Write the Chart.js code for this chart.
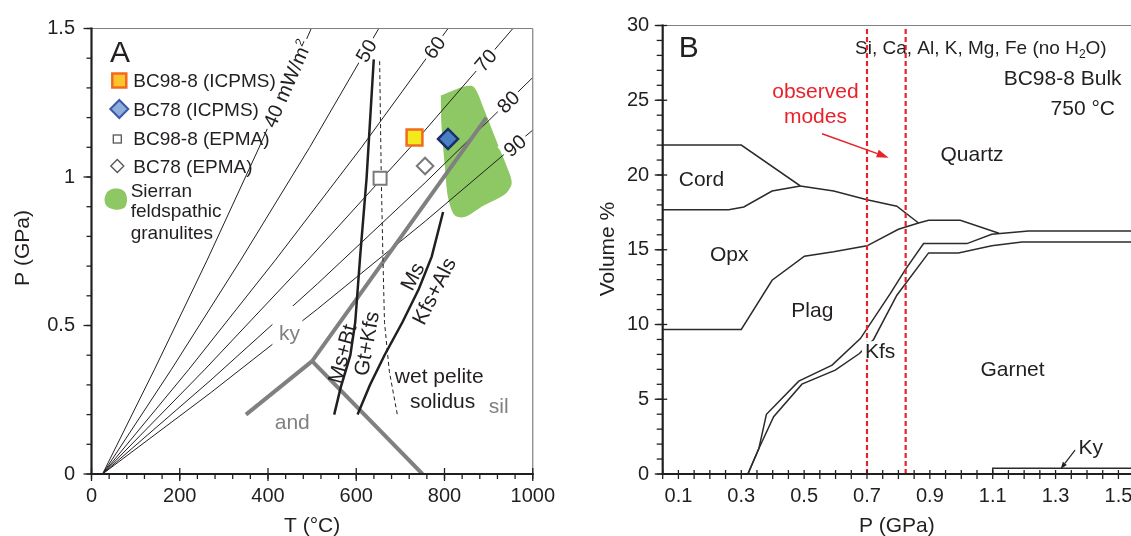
<!DOCTYPE html>
<html><head><meta charset="utf-8">
<script src="https://cdn.jsdelivr.net/npm/chart.js@4.4.0/dist/chart.umd.min.js"></script>
<style>
html,body{margin:0;padding:0;background:#fff;overflow:hidden;}
#wrap{position:relative;width:1131px;height:536px;overflow:hidden;}
#ca{position:absolute;left:0;top:0;}
#cb{position:absolute;left:565px;top:0;}
</style></head><body>
<div id="wrap"><canvas id="ca" width="565" height="536"></canvas><canvas id="cb" width="580" height="536"></canvas></div>
<script>
const FONT = "'Liberation Sans', Arial, Helvetica, sans-serif";
const INK = '#231f20';
const GRAY = '#808080';
const RED = '#e8212a';

// ================= Panel A data (T in °C, P in GPa) =================
const tTickLabels = [0, 200, 400, 600, 800, 1000];
const tMinorTicks = [0,40,80,120,160,200,240,280,320,360,400,440,480,520,560,600,640,680,720,760,800,840,880,920,960,1000];
const pTickLabelsA = [0, 0.5, 1, 1.5];
const pMinorTicksA = [0,0.1,0.2,0.3,0.4,0.5,0.6,0.7,0.8,0.9,1.0,1.1,1.2,1.3,1.4,1.5];

const geo40 = [[25,0],[143,0.353],[262,0.72],[380,1.10],[498,1.5]];
const geo50 = [[25,0],[181.5,0.353],[338,0.72],[494.5,1.10],[651,1.5]];
const geo60 = [[25,0],[221,0.353],[416.5,0.72],[612,1.10],[808,1.5]];
const geo70 = [[25,0],[257.5,0.353],[490,0.72],[722.5,1.10],[955,1.5]];
const geo80 = [[25,0],[268.75,0.314],[512.5,0.641],[756.25,0.981],[1000,1.335]];
const geo90 = [[25,0],[268.75,0.272],[512.5,0.556],[756.25,0.851],[1000,1.158]];
const geoNames = ['40','50','60','70','80','90'];
const geoLabelT = [443, 622, 777, 893, 944, 959];

const msBtGtKfs = [[550,0.2],[564.5,0.29],[586.6,0.40],[597.7,0.511],[608.8,0.732],[623.5,0.998],[639.7,1.396]];
const msKfsAls = [[603,0.2],[631,0.30],[664,0.40],[704.6,0.511],[741.5,0.622],[771,0.732],[796.8,0.882]];
const wetSolidus = [[653,1.39],[656.7,0.998],[660.4,0.732],[664,0.511],[675,0.345],[693.6,0.196]];
const andKy = [[350,0.2],[500,0.38]];
const kySil = [[500,0.38],[895,1.2]];
const andSil = [[500,0.38],[750,0]];

const bc98Icpms = [[732,1.133]];
const bc78Icpms = [[808,1.128]];
const bc98Epma = [[654,0.996]];
const bc78Epma = [[756,1.037]];

const sierranT = [791.7,845,867,889,918.5,948,952,937,889,845,823,808,800.5,793,791.7];
const sierranP = [1.274,1.305,1.302,1.230,1.119,1.009,0.976,0.942,0.904,0.865,0.871,0.931,1.042,1.175,1.274];

const legendItems = ['BC98-8 (ICPMS)','BC78 (ICPMS)','BC98-8 (EPMA)','BC78 (EPMA)'];
const sierranLegend = ['Sierran','feldspathic','granulites'];

// ================= Panel B data (P in GPa, Volume %) =================
const pTickLabelsB = [0.1,0.3,0.5,0.7,0.9,1.1,1.3,1.5];
const pMinorTicksB = [0.05,0.1,0.15,0.2,0.25,0.3,0.35,0.4,0.45,0.5,0.55,0.6,0.65,0.7,0.75,0.8,0.85,0.9,0.95,1.0,1.05,1.1,1.15,1.2,1.25,1.3,1.35,1.4,1.45,1.5];
const vTickLabels = [0,5,10,15,20,25,30];
const vMinorTicks = [0,1,2,3,4,5,6,7,8,9,10,11,12,13,14,15,16,17,18,19,20,21,22,23,24,25,26,27,28,29,30];

const cordTop = [[0.05,22.0],[0.30,22.0],[0.488,19.27],[0.594,18.93],[0.70,18.35],[0.795,17.91],[0.864,16.79]];
const cordBase = [[0.05,17.68],[0.26,17.68],[0.308,17.86],[0.398,18.93],[0.488,19.27]];
const opxBase = [[0.05,9.67],[0.30,9.67],[0.398,12.96],[0.501,14.57],[0.594,14.86],[0.70,15.26],[0.80,16.37],[0.864,16.79],[0.896,16.97],[0.997,16.97],[1.12,16.1]];
const plagBase = [[0.321,0],[0.356,1.71],[0.380,3.99],[0.483,6.21],[0.589,7.28],[0.679,9.06],[0.774,12.07],[0.822,13.67],[0.880,15.41],[1.018,15.41],[1.097,16.04],[1.214,16.26],[1.56,16.26]];
const kfsBase = [[0.321,0],[0.356,1.71],[0.403,3.83],[0.493,6.01],[0.599,6.95],[0.676,8.06],[0.721,9.0],[0.795,11.96],[0.896,14.79],[0.991,14.79],[1.097,15.26],[1.193,15.52],[1.56,15.52]];
const kyTop = [[1.10,0],[1.10,0.38],[1.56,0.38]];
const observedP = [0.70, 0.823];
const redArrow = [[0.557,22.76],[0.769,21.16]];
const kyArrow = [[1.362,1.60],[1.316,0.34]];

// ================= helpers =================
const xy = a => a.map(p => ({x: p[0], y: p[1]}));
function lineDs(arr, color, w, dash) {
  return {data: xy(arr), showLine: true, borderColor: color, borderWidth: w, borderDash: dash || [],
    pointRadius: 0, pointHoverRadius: 0, fill: false, tension: 0};
}
function markDs(arr, style, r, fillC, strokeC, w) {
  return {data: xy(arr), showLine: false, pointStyle: style, pointRadius: r, pointHoverRadius: r,
    pointBackgroundColor: fillC, pointBorderColor: strokeC, pointBorderWidth: w,
    backgroundColor: fillC, borderColor: strokeC};
}
function seg(ctx, x1, y1, x2, y2) { ctx.beginPath(); ctx.moveTo(x1, y1); ctx.lineTo(x2, y2); ctx.stroke(); }
function capText(ctx, s, x, yc, size, color, align) {
  ctx.font = size + 'px ' + FONT; ctx.fillStyle = color; ctx.textAlign = align || 'center';
  ctx.textBaseline = 'alphabetic'; ctx.fillText(s, x, yc + 0.358 * size);
}
function rotText(ctx, s, x, y, size, color, deg, bg) {
  ctx.save(); ctx.translate(x, y); ctx.rotate(deg * Math.PI / 180);
  ctx.font = size + 'px ' + FONT;
  if (bg) { const w = ctx.measureText(s).width; ctx.fillStyle = '#fff'; ctx.fillRect(-w/2 - 3, -size*0.5, w + 6, size); }
  ctx.fillStyle = color; ctx.textAlign = 'center'; ctx.textBaseline = 'alphabetic';
  ctx.fillText(s, 0, 0.358 * size);
  ctx.restore();
}
function arrow(ctx, x1, y1, x2, y2, color, w, head, half) {
  ctx.save(); ctx.strokeStyle = color; ctx.fillStyle = color; ctx.lineWidth = w;
  const a = Math.atan2(y2 - y1, x2 - x1);
  const bx = x2 - head * Math.cos(a), by = y2 - head * Math.sin(a);
  seg(ctx, x1, y1, bx, by);
  ctx.beginPath(); ctx.moveTo(x2, y2);
  ctx.lineTo(bx + half * Math.sin(a), by - half * Math.cos(a));
  ctx.lineTo(bx - half * Math.sin(a), by + half * Math.cos(a));
  ctx.closePath(); ctx.fill(); ctx.restore();
}

// ================= Panel A =================
const geoSets = [geo40, geo50, geo60, geo70, geo80, geo90];
const plugA = {
  id: 'plugA',
  afterDatasetsDraw(chart) {
    const {ctx, chartArea: ca, scales: {x, y}} = chart;
    const X = v => x.getPixelForValue(v), Y = v => y.getPixelForValue(v);
    ctx.save();
    // geotherm labels
    geoSets.forEach((arr, i) => {
      const t = geoLabelT[i];
      let k = 0; while (k < arr.length - 2 && arr[k + 1][0] < t) k++;
      const [t1, p1] = arr[k], [t2, p2] = arr[k + 1];
      const p = p1 + (p2 - p1) * (t - t1) / (t2 - t1);
      const ang = Math.atan2(Y(p2) - Y(p1), X(t2) - X(t1));
      ctx.save(); ctx.translate(X(t), Y(p)); ctx.rotate(ang);
      ctx.font = '20px ' + FONT;
      if (i === 0) {
        const main = geoNames[0] + ' mW/m';
        const w1 = ctx.measureText(main).width;
        ctx.font = '12px ' + FONT; const w2 = ctx.measureText('2').width;
        const tot = w1 + w2, x0 = -tot / 2;
        ctx.fillStyle = '#fff'; ctx.fillRect(x0 - 3, -10, tot + 6, 20);
        ctx.fillStyle = INK; ctx.textAlign = 'left'; ctx.textBaseline = 'alphabetic';
        ctx.font = '20px ' + FONT; ctx.fillText(main, x0, 7);
        ctx.font = '12px ' + FONT; ctx.fillText('2', x0 + w1 + 0.5, -1);
      } else {
        const w = ctx.measureText(geoNames[i]).width;
        ctx.fillStyle = '#fff'; ctx.fillRect(-w / 2 - 3, -10, w + 6, 20);
        ctx.fillStyle = INK; ctx.textAlign = 'center'; ctx.textBaseline = 'alphabetic';
        ctx.fillText(geoNames[i], 0, 7);
      }
      ctx.restore();
    });
    // ky label with gap in geotherms
    const kx = X(448.5), kyy = Y(0.478);
    ctx.fillStyle = '#fff'; ctx.fillRect(kx - 17, kyy - 26, 30, 39);
    capText(ctx, 'ky', kx, kyy, 21, GRAY);
    capText(ctx, 'and', X(455), Y(0.176), 21, GRAY);
    capText(ctx, 'sil', X(923), Y(0.232), 21, GRAY);
    capText(ctx, 'wet pelite', X(788), Y(0.332), 21, INK);
    capText(ctx, 'solidus', X(795.6), Y(0.248), 21, INK);
    rotText(ctx, 'Ms+Bt', X(567), Y(0.405), 21, INK, -75);
    rotText(ctx, 'Gt+Kfs', X(622), Y(0.439), 21, INK, -80);
    rotText(ctx, 'Ms', X(726), Y(0.666), 21, INK, -63);
    rotText(ctx, 'Kfs+Als', X(775), Y(0.617), 21, INK, -63);

    // panel letter
    ctx.font = '30px ' + FONT; ctx.fillStyle = INK; ctx.textAlign = 'left'; ctx.textBaseline = 'alphabetic';
    ctx.fillText('A', ca.left + 18.5, ca.top + 33);

    // legend
    const sx = ca.left + 27.8, tx = ca.left + 41.8;
    const ly = [ca.top + 52, ca.top + 80.5, ca.top + 109.5, ca.top + 137.5];
    ctx.fillStyle = '#fcc52b'; ctx.strokeStyle = '#f26a21'; ctx.lineWidth = 2.5;
    ctx.fillRect(sx - 7, ly[0] - 7, 14, 14); ctx.strokeRect(sx - 7, ly[0] - 7, 14, 14);
    ctx.beginPath(); ctx.moveTo(sx, ly[1] - 9); ctx.lineTo(sx + 9, ly[1]); ctx.lineTo(sx, ly[1] + 9); ctx.lineTo(sx - 9, ly[1]); ctx.closePath();
    ctx.fillStyle = '#8eaedc'; ctx.fill(); ctx.strokeStyle = '#3a5aa8'; ctx.lineWidth = 2; ctx.stroke();
    ctx.strokeStyle = '#555'; ctx.lineWidth = 1.3;
    ctx.strokeRect(sx - 2 - 4, ly[2] + 1 - 4, 8, 8);
    ctx.beginPath(); ctx.moveTo(sx - 2, ly[3] - 6.5); ctx.lineTo(sx - 2 + 6.5, ly[3]); ctx.lineTo(sx - 2, ly[3] + 6.5); ctx.lineTo(sx - 2 - 6.5, ly[3]); ctx.closePath(); ctx.stroke();
    legendItems.forEach((s, i) => capText(ctx, s, tx, ly[i], 19, INK, 'left'));
    const gx = ca.left + 24.5, gy = ca.top + 170.7;
    ctx.beginPath();
    ctx.moveTo(gx - 10, gy - 5);
    ctx.bezierCurveTo(gx - 8, gy - 11, gx + 2, gy - 12, gx + 7, gy - 9);
    ctx.bezierCurveTo(gx + 12, gy - 6, gx + 12, gy + 4, gx + 9, gy + 8);
    ctx.bezierCurveTo(gx + 5, gy + 12, gx - 6, gy + 11, gx - 10, gy + 6);
    ctx.bezierCurveTo(gx - 12, gy + 3, gx - 12, gy - 2, gx - 10, gy - 5);
    ctx.closePath(); ctx.fillStyle = '#8dc865'; ctx.fill();
    const sl = [ca.top + 161.3, ca.top + 182, ca.top + 203.5];
    sierranLegend.forEach((s, i) => capText(ctx, s, ca.left + 39.2, sl[i], 19, INK, 'left'));
    ctx.restore();
  },
  afterDraw(chart) {
    const {ctx, chartArea: ca, scales: {x, y}} = chart;
    const X = v => x.getPixelForValue(v), Y = v => y.getPixelForValue(v);
    ctx.save();
    ctx.strokeStyle = GRAY; ctx.lineWidth = 1.2;
    seg(ctx, ca.left, ca.top, ca.right, ca.top);
    seg(ctx, ca.right, ca.top, ca.right, ca.bottom);
    ctx.strokeStyle = INK; ctx.lineWidth = 1.3;
    pMinorTicksA.forEach(v => seg(ctx, ca.left - 5, Y(v), ca.left, Y(v)));
    pTickLabelsA.forEach(v => seg(ctx, ca.left - 8, Y(v), ca.left, Y(v)));
    tMinorTicks.forEach(v => seg(ctx, X(v), ca.bottom, X(v), ca.bottom + 5));
    tTickLabels.forEach(v => seg(ctx, X(v), ca.bottom - 6, X(v), ca.bottom + 7));
    ctx.lineWidth = 2.2;
    seg(ctx, ca.left, ca.top - 1, ca.left, ca.bottom + 1);
    seg(ctx, ca.left - 1, ca.bottom, ca.right + 1, ca.bottom);
    capText(ctx, 'T (°C)', (ca.left + ca.right) / 2, 524, 21, INK);
    ctx.save(); ctx.translate(ca.left - 70, 248); ctx.rotate(-Math.PI / 2);
    capText(ctx, 'P (GPa)', 0, 0, 21, INK); ctx.restore();
    ctx.restore();
  }
};

const sierran = sierranT.map((t, i) => [t, sierranP[i]]);
const dsA = [
  markDs(bc98Icpms, 'rect', 11.2, '#f2ea1c', '#f26a21', 2.5),
  markDs(bc78Icpms, 'rectRot', 10, '#4a7fc4', '#1b2f6b', 2.5),
  markDs(bc98Epma, 'rect', 9.2, '#ffffff', '#7a7a7a', 2),
  markDs(bc78Epma, 'rectRot', 8.3, '#ffffff', '#7a7a7a', 2),
  lineDs(msBtGtKfs, INK, 2.5),
  lineDs(msKfsAls, INK, 2.5),
  lineDs(wetSolidus, INK, 1, [4, 3]),
  lineDs(kySil, GRAY, 4),
  lineDs(andKy, GRAY, 4),
  lineDs(andSil, GRAY, 4),
  lineDs(geo40, INK, 1), lineDs(geo50, INK, 1), lineDs(geo60, INK, 1),
  lineDs(geo70, INK, 1), lineDs(geo80, INK, 1), lineDs(geo90, INK, 1),
  {data: xy(sierran), showLine: true, fill: 'shape', backgroundColor: '#8dc865', borderColor: 'rgba(0,0,0,0)',
   borderWidth: 0, pointRadius: 0, pointHoverRadius: 0, tension: 0.3}
];

const tickFont = {family: FONT, size: 20};
new Chart(document.getElementById('ca'), {
  type: 'scatter',
  data: {datasets: dsA},
  options: {
    responsive: false, animation: false, devicePixelRatio: 1, events: [],
    layout: {padding: {left: 0, right: 22, top: 22, bottom: 0}},
    plugins: {legend: {display: false}, tooltip: {enabled: false}},
    scales: {
      x: {type: 'linear', min: 0, max: 1000,
          afterBuildTicks: s => { s.ticks = tTickLabels.map(v => ({value: v})); },
          ticks: {autoSkip: false, maxRotation: 0, color: INK, font: tickFont, padding: 10, callback: v => String(v)},
          grid: {display: false, drawTicks: false}, border: {display: false},
          afterFit: s => { s.height = 62; }},
      y: {type: 'linear', min: 0, max: 1.5,
          afterBuildTicks: s => { s.ticks = pTickLabelsA.map(v => ({value: v})); },
          ticks: {autoSkip: false, color: INK, font: tickFont, padding: 16.5, callback: v => String(v)},
          grid: {display: false, drawTicks: false}, border: {display: false},
          afterFit: s => { s.width = 91.5; }}
    }
  },
  plugins: [plugA]
});

// ================= Panel B =================
const plugB = {
  id: 'plugB',
  beforeDatasetsDraw(chart) {
    const {ctx, scales: {x, y}} = chart;
    const X = v => x.getPixelForValue(v), Y = v => y.getPixelForValue(v);
    ctx.save();
    ctx.font = '19px ' + FONT;
    const a = 'Si, Ca, Al, K, Mg, Fe (no H', c = 'O)';
    const wa = ctx.measureText(a).width, wc = ctx.measureText(c).width;
    ctx.font = '12px ' + FONT; const wb = ctx.measureText('2').width;
    const right = X(1.4626), yb = Y(28.54) + 6.8;
    let x0 = right - (wa + wb + wc);
    ctx.fillStyle = INK; ctx.textAlign = 'left'; ctx.textBaseline = 'alphabetic';
    ctx.font = '19px ' + FONT; ctx.fillText(a, x0, yb);
    ctx.font = '12px ' + FONT; ctx.fillText('2', x0 + wa, yb + 4);
    ctx.font = '19px ' + FONT; ctx.fillText(c, x0 + wa + wb, yb);
    capText(ctx, 'BC98-8 Bulk', X(1.510), Y(26.54), 21, INK, 'right');
    capText(ctx, '750 °C', X(1.489), Y(24.54), 21, INK, 'right');
    ctx.restore();
  },
  afterDatasetsDraw(chart) {
    const {ctx, chartArea: ca, scales: {x, y}} = chart;
    const X = v => x.getPixelForValue(v), Y = v => y.getPixelForValue(v);
    ctx.save();
    capText(ctx, 'Cord', X(0.1735), Y(19.75), 21, INK);
    capText(ctx, 'Opx', X(0.2615), Y(14.74), 21, INK);
    capText(ctx, 'Plag', X(0.526), Y(11.0), 21, INK);
    capText(ctx, 'Quartz', X(1.034), Y(21.42), 21, INK);
    capText(ctx, 'Garnet', X(1.163), Y(7.03), 21, INK);
    ctx.font = '21px ' + FONT;
    const kw = ctx.measureText('Kfs').width, kx = X(0.742), kyy = Y(8.28);
    ctx.fillStyle = '#fff'; ctx.fillRect(kx - kw / 2 - 3, kyy - 9, kw + 6, 18);
    capText(ctx, 'Kfs', kx, kyy, 21, INK);
    capText(ctx, 'Ky', X(1.412), Y(1.87), 21, INK);
    arrow(ctx, X(kyArrow[0][0]), Y(kyArrow[0][1]), X(kyArrow[1][0]), Y(kyArrow[1][1]), INK, 1.2, 7, 2.5);
    capText(ctx, 'observed', X(0.536), Y(25.65), 21, RED);
    capText(ctx, 'modes', X(0.536), Y(23.98), 21, RED);
    arrow(ctx, X(redArrow[0][0]), Y(redArrow[0][1]), X(redArrow[1][0]), Y(redArrow[1][1]), RED, 1.5, 12, 4);
    ctx.font = '30px ' + FONT; ctx.fillStyle = INK; ctx.textAlign = 'left'; ctx.textBaseline = 'alphabetic';
    ctx.fillText('B', X(0.1013), Y(27.88));
    ctx.restore();
  },
  afterDraw(chart) {
    const {ctx, chartArea: ca, scales: {x, y}} = chart;
    const X = v => x.getPixelForValue(v), Y = v => y.getPixelForValue(v);
    ctx.save();
    ctx.strokeStyle = GRAY; ctx.lineWidth = 1.2;
    seg(ctx, ca.left, ca.top, ca.right + 20, ca.top);
    ctx.strokeStyle = INK; ctx.lineWidth = 1.3;
    vMinorTicks.forEach(v => seg(ctx, ca.left - 6, Y(v), ca.left, Y(v)));
    vTickLabels.forEach(v => seg(ctx, ca.left - 8, Y(v), ca.left + 4.5, Y(v)));
    pMinorTicksB.forEach(v => seg(ctx, X(v), ca.bottom - 4, X(v), ca.bottom + 5));
    ctx.lineWidth = 2.2;
    seg(ctx, ca.left, ca.top - 1, ca.left, ca.bottom + 1);
    seg(ctx, ca.left - 1, ca.bottom, ca.right + 20, ca.bottom);
    capText(ctx, 'P (GPa)', (ca.left + ca.right) / 2, 524, 21, INK);
    ctx.save(); ctx.translate(ca.left - 56, 249); ctx.rotate(-Math.PI / 2);
    capText(ctx, 'Volume %', 0, 0, 21, INK); ctx.restore();
    ctx.restore();
  }
};

const LB = '#2b2b2b';
const dsB = [
  lineDs([[observedP[0], 0], [observedP[0], 30]], RED, 2.2, [5, 3]),
  lineDs([[observedP[1], 0], [observedP[1], 30]], RED, 2.2, [5, 3]),
  lineDs(cordTop, LB, 1.5),
  lineDs(cordBase, LB, 1.5),
  lineDs(opxBase, LB, 1.5),
  lineDs(plagBase, LB, 1.5),
  lineDs(kfsBase, LB, 1.5),
  lineDs(kyTop, LB, 1.5)
];
new Chart(document.getElementById('cb'), {
  type: 'scatter',
  data: {datasets: dsB},
  options: {
    responsive: false, animation: false, devicePixelRatio: 1, events: [],
    layout: {padding: {left: 0, right: 14, top: 25, bottom: 0}},
    plugins: {legend: {display: false}, tooltip: {enabled: false}},
    scales: {
      x: {type: 'linear', min: 0.05, max: 1.54,
          afterBuildTicks: s => { s.ticks = pTickLabelsB.map(v => ({value: v})); },
          ticks: {autoSkip: false, maxRotation: 0, color: INK, font: tickFont, padding: 10, callback: v => v.toFixed(1)},
          grid: {display: false, drawTicks: false}, border: {display: false},
          afterFit: s => { s.height = 62; }},
      y: {type: 'linear', min: 0, max: 30,
          afterBuildTicks: s => { s.ticks = vTickLabels.map(v => ({value: v})); },
          ticks: {autoSkip: false, color: INK, font: tickFont, padding: 13.5, callback: v => String(v)},
          grid: {display: false, drawTicks: false}, border: {display: false},
          afterFit: s => { s.width = 97.7; }}
    }
  },
  plugins: [plugB]
});
</script>
</body></html>
